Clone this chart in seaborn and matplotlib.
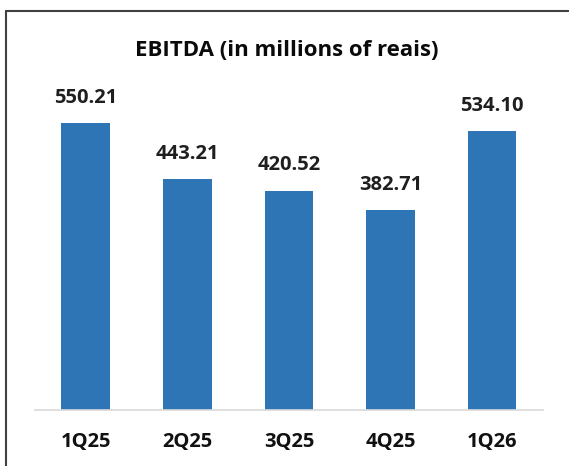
import matplotlib
matplotlib.use("Agg")
import matplotlib.pyplot as plt
from matplotlib.lines import Line2D
import pandas as pd
import seaborn as sns

quarters = ["1Q25", "2Q25", "3Q25", "4Q25", "1Q26"]
ebitda = [550.21, 443.21, 420.52, 382.71, 534.10]
title = "EBITDA (in millions of reais)"

sns.set_style("white")
plt.rcParams["font.family"] = ["Open Sans", "DejaVu Sans"]

df = pd.DataFrame({"quarter": quarters, "ebitda": ebitda})

fig = plt.figure(figsize=(5.69, 4.66), dpi=100)
ax = fig.add_axes([0.0615, 0.1202, 0.8925, 0.6716])
sns.barplot(data=df, x="quarter", y="ebitda", color="#2E75B6", saturation=1,
            width=0.48, linewidth=0, ax=ax)

ax.set_ylim(0, 600)
ax.set_xlim(-0.5, len(quarters) - 0.5)
ax.set_xlabel("")
ax.set_ylabel("")
ax.set_yticks([])
for side in ["top", "left", "right"]:
    ax.spines[side].set_visible(False)
ax.spines["bottom"].set_color("#d9d9d9")
ax.spines["bottom"].set_linewidth(1.2)
ax.tick_params(axis="x", length=0, pad=16, labelsize=14.5)
for lbl in ax.get_xticklabels():
    lbl.set_fontweight("bold")
    lbl.set_color("#111111")

for i, v in enumerate(ebitda):
    ax.annotate(f"{v:.2f}", (i, v), xytext=(0, 11), textcoords="offset points",
                ha="center", va="bottom", fontsize=14.5, fontweight="bold",
                color="#1f1f1f")

fig.text(0.504, 0.892, title, ha="center", va="center", fontsize=16,
         fontweight="bold", color="#0a0a0a")

# frame lines (top and left edge of the chart box)
fig.add_artist(Line2D([0.0105, 1.0], [0.9764, 0.9764], color="#404040", lw=1.5))
fig.add_artist(Line2D([0.0105, 0.0105], [0.0, 0.9764], color="#404040", lw=1.5))

fig.savefig("out.png", dpi=100)
